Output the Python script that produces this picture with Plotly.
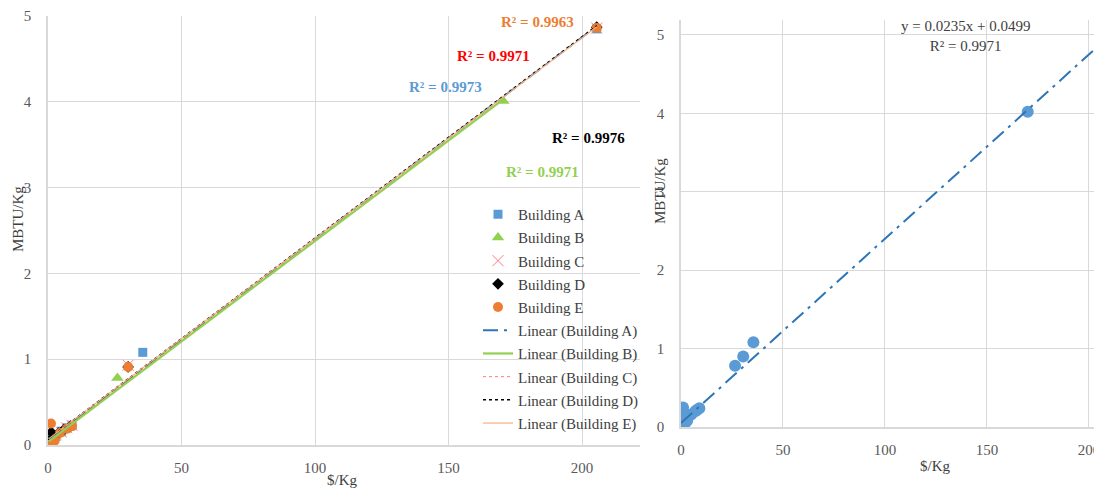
import numpy as np
import plotly.graph_objects as go

W, H = 1094, 491
SERIF = "'Liberation Serif', 'Times New Roman', Times, serif"

# ---- data ----
bldg_names = ["Building A", "Building B", "Building C", "Building D", "Building E"]
a_x = [0.5, 1.5, 3.0, 5.0, 7.0, 9.0, 35.5, 205.5]
a_y = [0.01, 0.05, 0.12, 0.16, 0.20, 0.23, 1.08, 4.85]
b_x = [0.3, 1.0, 2.5, 4.0, 6.0, 8.0, 26.0, 170.5]
b_y = [0.00, 0.03, 0.08, 0.13, 0.17, 0.20, 0.78, 4.01]
c_x = [0.5, 1.5, 3.0, 5.0, 7.0, 9.0, 30.0, 205.5]
c_y = [0.02, 0.08, 0.12, 0.15, 0.20, 0.23, 0.93, 4.86]
d_x = [0.4, 1.2, 2.0, 4.0, 6.0, 8.5, 30.0, 205.5]
d_y = [0.01, 0.15, 0.10, 0.14, 0.18, 0.22, 0.91, 4.87]
e_x = [0.3, 1.1, 2.5, 4.5, 7.0, 9.0, 30.0, 205.5]
e_y = [0.00, 0.25, 0.05, 0.14, 0.19, 0.22, 0.91, 4.86]
r2_labels = ["R² = 0.9973", "R² = 0.9971", "R² = 0.9971", "R² = 0.9976", "R² = 0.9963"]

all_x = [0.0, 0.5, 1.0, 1.5, 2.0, 2.5, 3.0, 5.0, 7.0, 8.0, 9.0, 26.5, 30.5, 35.5, 170.0, 205.5]
all_y = [0.0, 0.02, 0.25, 0.18, 0.05, 0.12, 0.08, 0.16, 0.20, 0.22, 0.24, 0.78, 0.90, 1.08, 4.02, 4.85]
trend_slope = 0.0235
trend_intercept = 0.0499
trend_label = "y = 0.0235x + 0.0499<br>R² = 0.9971"

xticks = [0, 50, 100, 150, 200]
yticks = [0, 1, 2, 3, 4, 5]

# ---- styles ----
mk = [
    dict(symbol="square", size=9, color="#5B9BD5"),
    dict(symbol="triangle-up", size=11, color="#92D050"),
    dict(symbol="x-thin", size=11, color="#FF7C80", line=dict(color="#FF7C80", width=1)),
    dict(symbol="diamond", size=9, color="#000000"),
    dict(symbol="circle", size=10, color="#ED7D31"),
]
tl = [
    dict(color="#2E75B6", width=1.8, dash="longdashdot"),
    dict(color="#92D050", width=2.2, dash="solid"),
    dict(color="#FF7C80", width=1, dash="dot"),
    dict(color="#000000", width=1.5, dash="dot"),
    dict(color="#F4B183", width=1.2, dash="solid"),
]
r2_colors = ["#5B9BD5", "#92D050", "#FF0000", "#000000", "#ED7D31"]

fig = go.Figure()
xs = [a_x, b_x, c_x, d_x, e_x]
ys = [a_y, b_y, c_y, d_y, e_y]

for i, name in enumerate(bldg_names):
    fig.add_trace(go.Scatter(x=xs[i], y=ys[i], mode="markers", name=name, marker=mk[i],
                             legendgroup=name, xaxis="x", yaxis="y"))
for i, name in enumerate(bldg_names):
    k, b = np.polyfit(xs[i], ys[i], 1)
    lx = np.array([min(xs[i]), max(xs[i])])
    fig.add_trace(go.Scatter(x=lx, y=k * lx + b, mode="lines", name="Linear (" + name + ")",
                             line=tl[i], legendgroup="L" + name, xaxis="x", yaxis="y"))

# right panel
fig.add_trace(go.Scatter(x=all_x, y=all_y, mode="markers", showlegend=False,
                         marker=dict(symbol="circle", size=12, color="#5B9BD5"),
                         xaxis="x2", yaxis="y2"))
rx = np.array([0.0, max(all_x)])
fig.add_trace(go.Scatter(x=rx, y=trend_slope * rx + trend_intercept, mode="lines", showlegend=False,
                         line=dict(color="#2E75B6", width=2, dash="longdashdot"),
                         xaxis="x2", yaxis="y2"))

def px(x):
    return x / W

def py(y):
    return 1 - y / H

axis_common = dict(showgrid=True, gridcolor="#D9D9D9", gridwidth=1, zeroline=False,
                   showline=True, linecolor="#D9D9D9", linewidth=1.5, automargin=False,
                   tickfont=dict(family=SERIF, size=15, color="#595959"), ticks="")

fig.update_layout(
    width=W, height=H, margin=dict(l=0, r=0, t=0, b=0, autoexpand=False),
    paper_bgcolor="white", plot_bgcolor="white",
    font=dict(family=SERIF, size=15, color="#404040"),
    xaxis=dict(domain=[px(48), px(640)], range=[0, 221.7], tickvals=xticks, anchor="y",
               ticklabelstandoff=8, **axis_common),
    yaxis=dict(domain=[py(445), py(16)], range=[0, 5.0], tickvals=yticks, anchor="x",
               ticklabelstandoff=12, **axis_common),
    xaxis2=dict(domain=[px(681), 1.0], range=[0, 202.5], tickvals=xticks, anchor="y2",
                ticklabelstandoff=8, ticklabeloverflow="allow", **axis_common),
    yaxis2=dict(domain=[py(427), py(20)], range=[0, 5.19], tickvals=yticks, anchor="x2",
                ticklabelstandoff=12, **axis_common),
    legend=dict(x=px(478), y=py(198), xanchor="left", yanchor="top", bgcolor="rgba(0,0,0,0)",
                font=dict(family=SERIF, size=15, color="#404040"), tracegroupgap=0.7,
                itemwidth=30),
    showlegend=True,
)

ann = []
r2_pos = [(445, 87), (542, 172), (493, 56), (588, 138), (537, 22)]
for i in range(5):
    ann.append(dict(x=px(r2_pos[i][0]), y=py(r2_pos[i][1]), xref="paper", yref="paper",
                    xanchor="center", yanchor="middle",
                    text="<b>" + r2_labels[i] + "</b>", showarrow=False,
                    font=dict(family=SERIF, size=15, color=r2_colors[i])))
ann.append(dict(x=px(965), y=py(36), xref="paper", yref="paper", text=trend_label, showarrow=False,
                xanchor="center", yanchor="middle",
                font=dict(family=SERIF, size=15, color="#404040")))
for (tx, ty, t, ang) in [(18, 219, "MBTU/Kg", -90), (342, 480, "$/Kg", 0),
                         (660, 191, "MBTU/Kg", -90), (935, 466, "$/Kg", 0)]:
    ann.append(dict(x=px(tx), y=py(ty), xref="paper", yref="paper", text=t, showarrow=False,
                    xanchor="center", yanchor="middle", textangle=ang,
                    font=dict(family=SERIF, size=15, color="#404040")))
fig.update_layout(annotations=ann)

fig.write_html("out.html", config={"displayModeBar": False},
               post_script="document.body.style.margin='0px';document.body.style.overflow='hidden';")
